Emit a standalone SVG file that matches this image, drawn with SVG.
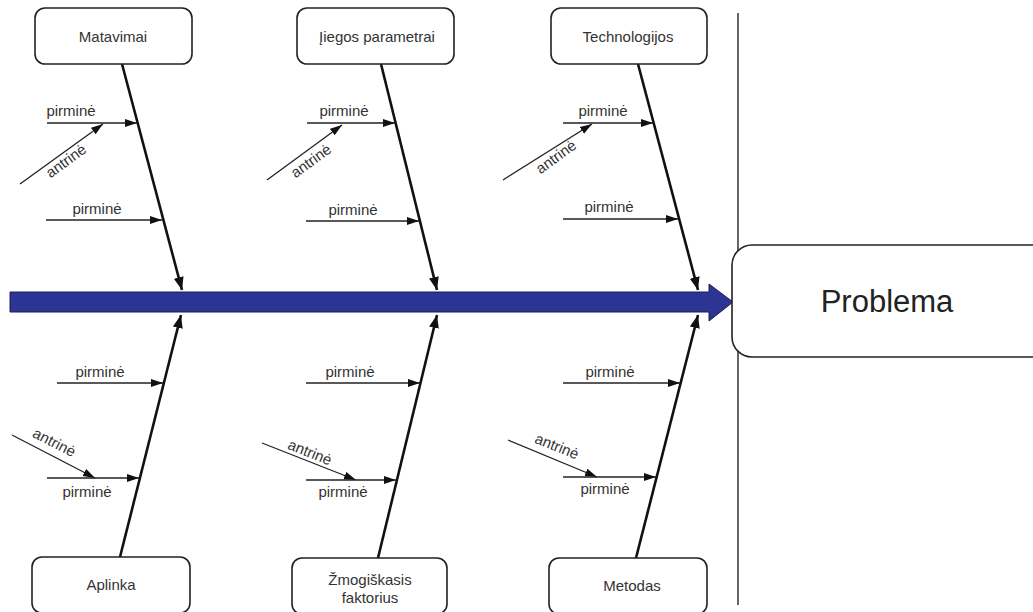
<svg xmlns="http://www.w3.org/2000/svg" width="1033" height="612" viewBox="0 0 1033 612">
<style>
.box{fill:#fff;stroke:#222;stroke-width:1.6}
.lbl{font-family:"Liberation Sans",Arial,sans-serif;font-size:15px;fill:#333;text-anchor:middle}
.big{font-family:"Liberation Sans",Arial,sans-serif;font-size:31px;fill:#222;text-anchor:middle}
.spine{stroke:#111;stroke-width:2.6;fill:none;marker-end:url(#ah)}
.br{stroke:#222;stroke-width:1.3;fill:none;marker-end:url(#as)}
</style>
<defs>
<marker id="ah" markerUnits="userSpaceOnUse" markerWidth="14" markerHeight="12" refX="13" refY="5" orient="auto"><path d="M0,0 L13,5 L0,10 Z" fill="#111"/></marker>
<marker id="as" markerUnits="userSpaceOnUse" markerWidth="14" markerHeight="10" refX="12" refY="4" orient="auto"><path d="M0,0 L12,4 L0,8 Z" fill="#111"/></marker>
</defs>
<rect width="1033" height="612" fill="#fff"/>
<line x1="738" y1="13" x2="738" y2="605" stroke="#666" stroke-width="2"/>
<g id="connectors">
<path d="M10,292 L709,292 L709,284 L733,302 L709,321 L709,312 L10,312 Z" fill="#2d3594" stroke="#1c1f50" stroke-width="1"/>
<line class="spine" x1="122" y1="64" x2="182" y2="290"/>
<line class="spine" x1="381" y1="64" x2="437" y2="290"/>
<line class="spine" x1="638" y1="64" x2="698" y2="290"/>
<line class="spine" x1="120" y1="557" x2="181" y2="315"/>
<line class="spine" x1="378" y1="558" x2="437" y2="315"/>
<line class="spine" x1="636" y1="558" x2="698" y2="315"/>
<line class="br" x1="47" y1="123" x2="137" y2="123"/>
<line class="br" x1="20" y1="184" x2="103" y2="124"/>
<line class="br" x1="46" y1="220" x2="162" y2="220"/>
<line class="br" x1="307" y1="123" x2="395" y2="123"/>
<line class="br" x1="267" y1="180" x2="342" y2="125"/>
<line class="br" x1="306" y1="221" x2="419" y2="221"/>
<line class="br" x1="563" y1="123" x2="653" y2="123"/>
<line class="br" x1="503" y1="180" x2="592" y2="124"/>
<line class="br" x1="563" y1="219" x2="678" y2="219"/>
<line class="br" x1="57" y1="383" x2="163" y2="383"/>
<line class="br" x1="12" y1="435" x2="95" y2="478"/>
<line class="br" x1="47" y1="478" x2="139" y2="478"/>
<line class="br" x1="306" y1="383" x2="420" y2="383"/>
<line class="br" x1="262" y1="443" x2="356" y2="480"/>
<line class="br" x1="306" y1="480" x2="396" y2="480"/>
<line class="br" x1="563" y1="383" x2="680" y2="383"/>
<line class="br" x1="508" y1="440" x2="597" y2="477"/>
<line class="br" x1="563" y1="477" x2="656" y2="477"/>
</g>
<g id="labels">
<text class="lbl" x="71" y="116">pirminė</text>
<text class="lbl" transform="translate(69,165) rotate(-36)">antrinė</text>
<text class="lbl" x="97" y="214">pirminė</text>
<text class="lbl" x="344" y="116">pirminė</text>
<text class="lbl" transform="translate(314,165) rotate(-36)">antrinė</text>
<text class="lbl" x="353" y="215">pirminė</text>
<text class="lbl" x="603" y="116">pirminė</text>
<text class="lbl" transform="translate(559,161) rotate(-36)">antrinė</text>
<text class="lbl" x="609" y="212">pirminė</text>
<text class="lbl" x="100" y="377">pirminė</text>
<text class="lbl" transform="translate(52,447) rotate(27)">antrinė</text>
<text class="lbl" x="87" y="497">pirminė</text>
<text class="lbl" x="350" y="377">pirminė</text>
<text class="lbl" transform="translate(308,457) rotate(22)">antrinė</text>
<text class="lbl" x="343" y="497">pirminė</text>
<text class="lbl" x="610" y="377">pirminė</text>
<text class="lbl" transform="translate(555,451) rotate(22)">antrinė</text>
<text class="lbl" x="605" y="494">pirminė</text>
</g>
<g id="n-matavimai"><rect class="box" x="35" y="8" width="157" height="56" rx="10"/><text class="lbl" x="113" y="42">Matavimai</text></g>
<g id="n-iiegos"><rect class="box" x="297" y="8" width="157" height="56" rx="10"/><text class="lbl" x="377" y="42">Įiegos parametrai</text></g>
<g id="n-technologijos"><rect class="box" x="551" y="8" width="156" height="56" rx="10"/><text class="lbl" x="628" y="42">Technologijos</text></g>
<g id="n-aplinka"><rect class="box" x="32" y="557" width="158" height="56" rx="10"/><text class="lbl" x="111" y="590">Aplinka</text></g>
<g id="n-zmogiskasis"><rect class="box" x="292" y="558" width="155" height="56" rx="10"/><text class="lbl" x="370" y="585">Žmogiškasis</text><text class="lbl" x="370" y="603">faktorius</text></g>
<g id="n-metodas"><rect class="box" x="549" y="558" width="158" height="56" rx="10"/><text class="lbl" x="632" y="591">Metodas</text></g>
<g id="n-problema"><rect class="box" x="732" y="245" width="320" height="112" rx="20"/><text class="big" x="887" y="312">Problema</text></g>
</svg>
